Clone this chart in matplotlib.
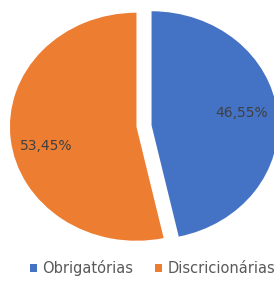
import matplotlib.pyplot as plt

labels = ['Obrigatórias', 'Discricionárias']
values = [46.55, 53.45]
colors = ['#4472C4', '#ED7D31']

fig = plt.figure(figsize=(2.74, 2.87), dpi=100)
ax = fig.add_axes([0, 0, 1, 1])

wedges, texts, autotexts = ax.pie(
    values, colors=colors, startangle=90, counterclock=False,
    explode=[0.06, 0.06], pctdistance=0.72,
    autopct=lambda p: f'{p:.2f}%'.replace('.', ','),
    textprops={'color': '#404040', 'fontsize': 10},
    wedgeprops={'linewidth': 0})

# nudge labels a little, like the excel original
x, y = autotexts[0].get_position()
autotexts[0].set_position((x, y + 0.03))
x, y = autotexts[1].get_position()
autotexts[1].set_position((x, y - 0.09))

# stretch the pie to an ellipse like the original
ax.set_aspect('auto')
ax.set_xlim(-144 / 126.5, (274 - 144) / 126.5)
ax.set_ylim(-(287 - 126) / 114, 126 / 114)
ax.axis('off')

fig.legend(wedges, labels, loc='center left', bbox_to_anchor=(30 / 274, 1 - 268 / 287),
           ncol=2, frameon=False, fontsize=10.5, labelcolor='#595959',
           handlelength=0.45, handleheight=0.45, handletextpad=0.4, columnspacing=1.5,
           borderaxespad=0, borderpad=0)

fig.savefig('out.png', dpi=100)
